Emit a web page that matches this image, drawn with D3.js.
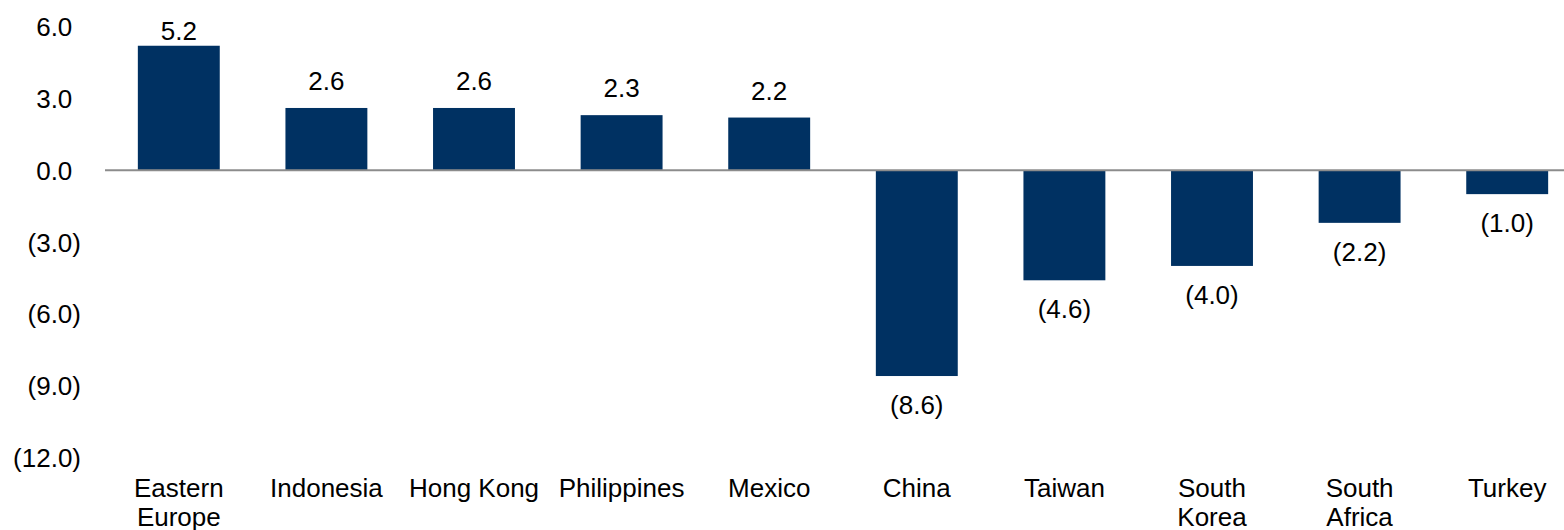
<!DOCTYPE html>
<meta charset="utf-8">
<style>
body { margin:0; background:#fff; }
svg text { font-family: Arial, "Liberation Sans", sans-serif; fill:#000; }
</style>
<body>
<svg width="1564" height="530" id="vis"></svg>
</body>
<script src="https://d3js.org/d3.v7.min.js"></script>
<script>
// data
var categories = ["Eastern\nEurope", "Indonesia", "Hong Kong", "Philippines", "Mexico",
                  "China", "Taiwan", "South\nKorea", "South\nAfrica", "Turkey"];
var values = [5.2, 2.6, 2.6, 2.3, 2.2, -8.6, -4.6, -4.0, -2.2, -1.0];
var yTicks = [6, 3, 0, -3, -6, -9, -12];

var data = categories.map(function(c, i){ return {cat: c, v: values[i]}; });

var svg = d3.select("svg");

function fmt(d) {
    return d < 0 ? "(" + Math.abs(d).toFixed(1) + ")" : d.toFixed(1);
}

var x = d3.scaleBand()
    .domain(categories)
    .range([105, 1581])
    .paddingInner(0.445)
    .paddingOuter(0.2225);

var y = d3.scaleLinear()
    .domain([-12, 6])
    .range([457.4, 26.6]);

// y axis labels, right aligned; positives keep a hidden ")" like Excel's 0.0_) format
var yAxis = svg.append("g")
    .attr("transform", "translate(81,0)")
    .call(d3.axisLeft(y).tickValues(yTicks).tickSize(0).tickPadding(0).tickFormat(""));
yAxis.select(".domain").remove();
yAxis.selectAll(".tick text").remove();
yAxis.selectAll(".tick").append("text")
    .attr("text-anchor", "end")
    .attr("dy", "0.35em")
    .style("font-size", "26px")
    .each(function(d){
        var t = d3.select(this);
        t.append("tspan").text(fmt(d));
        if (d >= 0) t.append("tspan").attr("fill-opacity", 0).text(")");
    });

// bars
svg.selectAll(".bar").data(data).enter().append("rect")
    .attr("class", "bar")
    .attr("x", function(d){ return x(d.cat); })
    .attr("width", x.bandwidth())
    .attr("y", function(d){ return y(Math.max(0, d.v)); })
    .attr("height", function(d){ return Math.abs(y(d.v) - y(0)); })
    .style("fill", "#003162");

// zero line
svg.append("line")
    .attr("x1", 105).attr("x2", 1564)
    .attr("y1", y(0)).attr("y2", y(0))
    .style("stroke", "#8c8c8c")
    .style("stroke-width", 2);

// value labels
svg.selectAll(".val").data(data).enter().append("text")
    .attr("class", "val")
    .attr("text-anchor", "middle")
    .attr("dy", "0.35em")
    .style("font-size", "26px")
    .attr("x", function(d){ return x(d.cat) + x.bandwidth() / 2; })
    .attr("y", function(d){
        return d.v >= 0 ? Math.max(31, y(d.v) - 27) : y(d.v) + 29;
    })
    .text(function(d){ return fmt(d.v); });

// category labels
var xAxis = svg.append("g")
    .attr("transform", "translate(0,497)")
    .call(d3.axisBottom(x).tickSize(0).tickPadding(0).tickFormat(""));
xAxis.select(".domain").remove();
xAxis.selectAll(".tick text").remove();
xAxis.selectAll(".tick").append("text")
    .attr("text-anchor", "middle")
    .style("font-size", "26px")
    .selectAll("tspan")
    .data(function(d){ return d.split("\n"); })
    .enter().append("tspan")
    .attr("x", 0)
    .attr("y", function(d, i){ return i * 29; })
    .text(function(d){ return d; });
</script>
